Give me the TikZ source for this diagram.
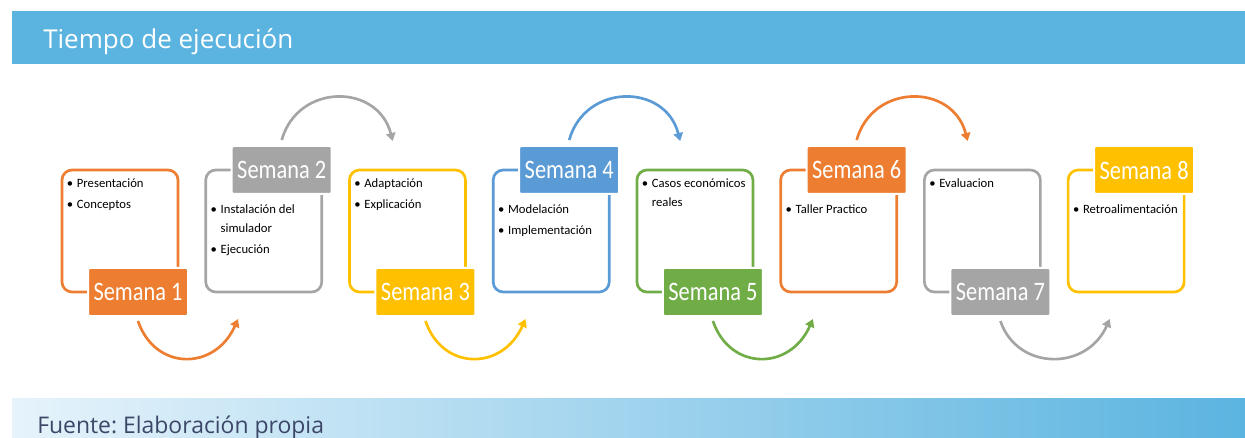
\documentclass[tikz,border=0pt]{standalone}
\usepackage{fontspec}
\setmainfont{Carlito}
\newfontfamily\headfont{Open Sans}
\usetikzlibrary{positioning,arrows.meta}
\definecolor{barblue}{HTML}{5BB4E0}
\definecolor{barlight}{HTML}{E6F3FB}
\definecolor{srcgray}{HTML}{3C4768}
\definecolor{wkorange}{HTML}{ED7D31}
\definecolor{wkgray}{HTML}{A5A5A5}
\definecolor{wkyellow}{HTML}{FFC000}
\definecolor{wkblue}{HTML}{5B9BD5}
\definecolor{wkgreen}{HTML}{70AD47}
\newdimen\boxGap
\boxGap=20.8pt
\newcommand\weekname[1]{\scalebox{0.84}[1]{Semana #1}}
\newcommand\bul{\makebox[7.5pt][l]{\textbullet}}
\newcommand\ind{\hspace*{7.5pt}}
\frenchspacing

\begin{document}
\begin{tikzpicture}[
    box/.style={%
      rectangle,
      rounded corners=7.5pt,
      line width=2pt,
      minimum width=87pt,
      minimum height=91.5pt,
      outer sep=0pt,
    },
    week/.style={%
      rectangle,
      rounded corners=1.5pt,
      draw=white,
      line width=1.5pt,
      minimum width=75pt,
      minimum height=36pt,
      text=white,
      font=\fontsize{20}{20}\selectfont,
    },
    items/.style={%
      anchor=north west,
      inner sep=0pt,
      align=left,
      font=\fontsize{9.5}{14.5}\selectfont,
    },
    flow/.style={%
      line width=2pt,
      -{Triangle[length=6pt,width=7pt]},
    },
  ]
    \useasboundingbox (0,0) rectangle (933.75pt,-328.5pt);

    % header and footer bars
    \fill [barblue] (9pt,-8.25pt) rectangle (933.75pt,-48pt);
    \node [anchor=base west, inner sep=0pt, text=white, font=\headfont\fontsize{19.5}{19.5}\selectfont] (title) at (32.25pt,-36.75pt) {Tiempo de ejecución};
    \shade [left color=barlight, right color=barblue] (9pt,-298.5pt) rectangle (933.75pt,-328.5pt);
    \node [anchor=base west, inner sep=0pt, text=srcgray, font=\headfont\fontsize{17.2}{17.2}\selectfont] (source) at (27.75pt,-324.75pt) {Fuente: Elaboración propia};

    % boxes
    \node [box, draw=wkorange, anchor=north west] (B1) at (46.5pt,-127.5pt) {};
    \node [box, draw=wkgray, right=\boxGap of B1] (B2) {};
    \node [box, draw=wkyellow, right=\boxGap of B2] (B3) {};
    \node [box, draw=wkblue, right=\boxGap of B3] (B4) {};
    \node [box, draw=wkgreen, right=\boxGap of B4] (B5) {};
    \node [box, draw=wkorange, right=\boxGap of B5] (B6) {};
    \node [box, draw=wkgray, right=\boxGap of B6] (B7) {};
    \node [box, draw=wkyellow, right=\boxGap of B7] (B8) {};

    % week labels
    \node [week, fill=wkorange] (W1) at ([xshift=-30pt]B1.south east) {\weekname{1}};
    \node [week, fill=wkgray] (W2) at ([xshift=-30pt]B2.north east) {\weekname{2}};
    \node [week, fill=wkyellow] (W3) at ([xshift=-30pt]B3.south east) {\weekname{3}};
    \node [week, fill=wkblue] (W4) at ([xshift=-30pt]B4.north east) {\weekname{4}};
    \node [week, fill=wkgreen] (W5) at ([xshift=-30pt]B5.south east) {\weekname{5}};
    \node [week, fill=wkorange] (W6) at ([xshift=-30pt]B6.north east) {\weekname{6}};
    \node [week, fill=wkgray] (W7) at ([xshift=-30pt]B7.south east) {\weekname{7}};
    \node [week, fill=wkyellow] (W8) at ([xshift=-30pt]B8.north east) {\weekname{8}};

    % contents
    \node [items] (T1) at ([shift={(3.5pt,-2.75pt)}]B1.north west) {\strut\bul Presentación\\[1pt]\bul Conceptos};
    \node [items] (T2) at ([shift={(3.5pt,-22.25pt)}]B2.north west) {\strut\bul Instalación del\\\ind simulador\\[1pt]\bul Ejecución};
    \node [items] (T3) at ([shift={(3.5pt,-2.75pt)}]B3.north west) {\strut\bul Adaptación\\[1pt]\bul Explicación};
    \node [items] (T4) at ([shift={(3.5pt,-22.25pt)}]B4.north west) {\strut\bul Modelación\\[1pt]\bul Implementación};
    \node [items] (T5) at ([shift={(3.5pt,-2.75pt)}]B5.north west) {\strut\bul Casos económicos\\\ind reales};
    \node [items] (T6) at ([shift={(3.5pt,-22.25pt)}]B6.north west) {\strut\bul Taller Practico};
    \node [items] (T7) at ([shift={(3.5pt,-2.75pt)}]B7.north west) {\strut\bul Evaluacion};
    \node [items] (T8) at ([shift={(3.5pt,-22.25pt)}]B8.north west) {\strut\bul Retroalimentación};

    % arrows
    \path (W1.south) ++(0,-3pt) coordinate (A1) ++(75pt,1.5pt) coordinate (E1);
    \path (W2.north) ++(0,3.75pt) coordinate (A2) ++(83.25pt,-0.75pt) coordinate (E2);
    \path (W3.south) ++(0,-3pt) coordinate (A3) ++(75pt,1.5pt) coordinate (E3);
    \path (W4.north) ++(0,3.75pt) coordinate (A4) ++(83.25pt,-0.75pt) coordinate (E4);
    \path (W5.south) ++(0,-3pt) coordinate (A5) ++(75pt,1.5pt) coordinate (E5);
    \path (W6.north) ++(0,3.75pt) coordinate (A6) ++(83.25pt,-0.75pt) coordinate (E6);
    \path (W7.south) ++(0,-3pt) coordinate (A7) ++(82pt,1.5pt) coordinate (E7);

    \draw [flow, wkorange] (A1) .. controls +(12.75pt,-37.5pt) and +(-17.25pt,-39pt) .. (E1);
    \draw [flow, wkgray] (A2) .. controls +(12pt,42.75pt) and +(-11.25pt,43.5pt) .. (E2);
    \draw [flow, wkyellow] (A3) .. controls +(12.75pt,-37.5pt) and +(-17.25pt,-39pt) .. (E3);
    \draw [flow, wkblue] (A4) .. controls +(12pt,42.75pt) and +(-11.25pt,43.5pt) .. (E4);
    \draw [flow, wkgreen] (A5) .. controls +(12.75pt,-37.5pt) and +(-17.25pt,-39pt) .. (E5);
    \draw [flow, wkorange] (A6) .. controls +(12pt,42.75pt) and +(-11.25pt,43.5pt) .. (E6);
    \draw [flow, wkgray] (A7) .. controls +(12.75pt,-37.5pt) and +(-17.25pt,-39pt) .. (E7);
\end{tikzpicture}
\end{document}
